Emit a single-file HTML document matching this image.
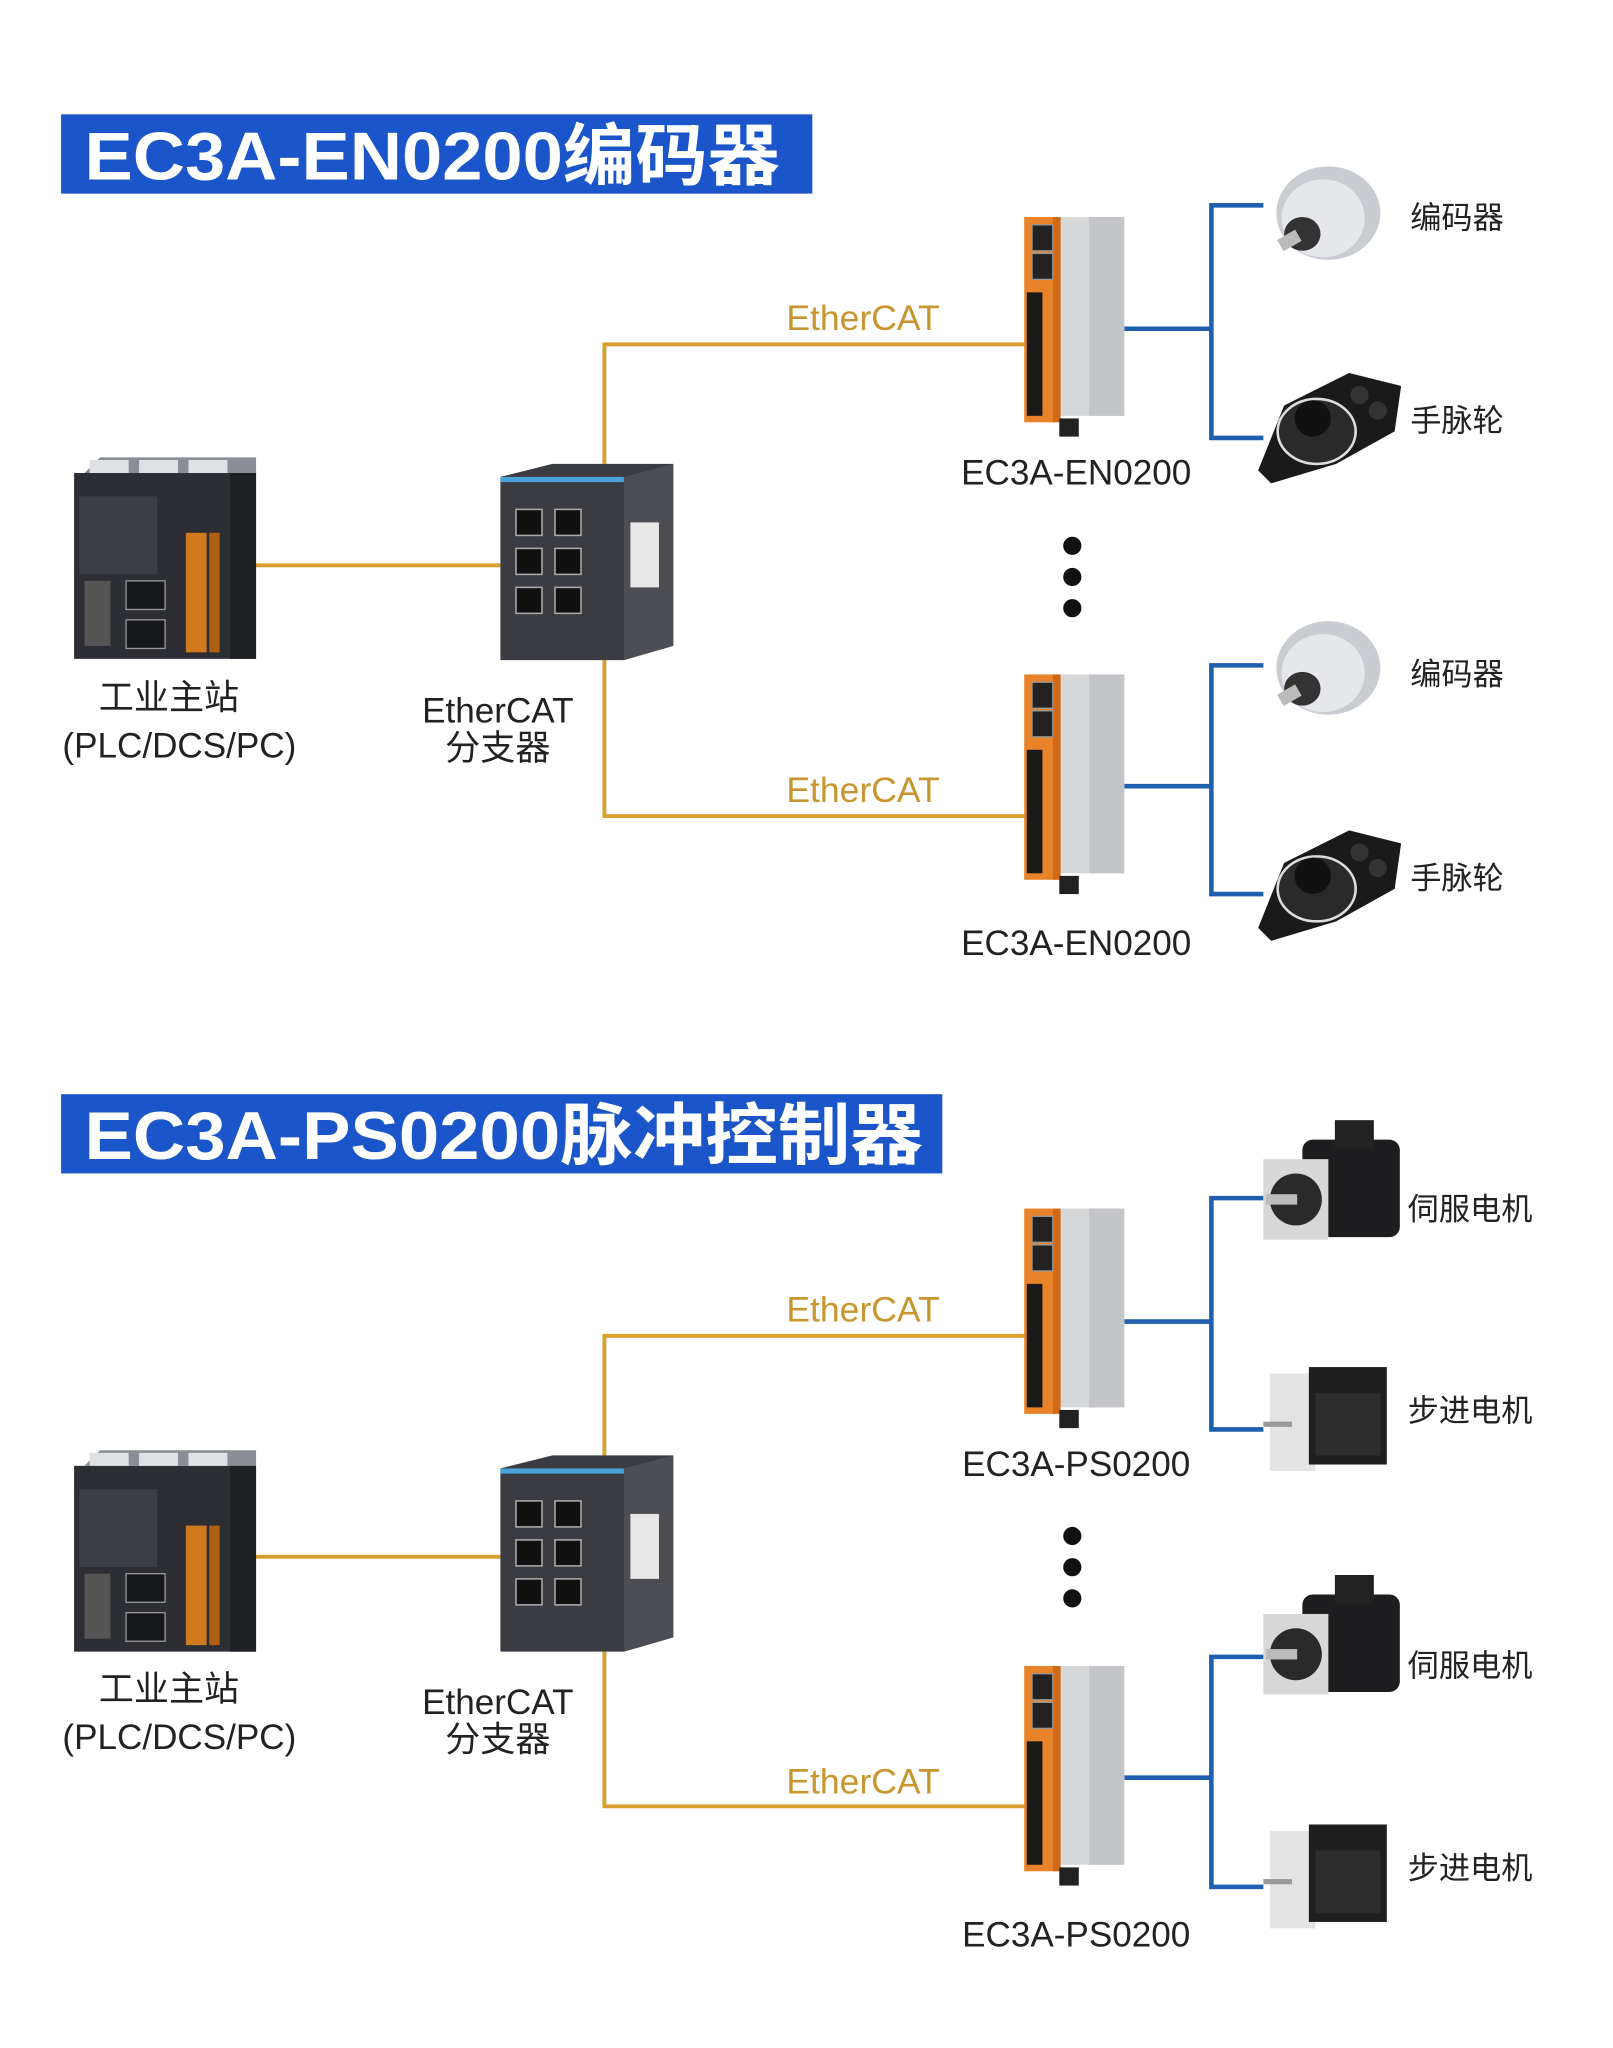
<!DOCTYPE html>
<html><head><meta charset="utf-8"><style>
html,body{margin:0;padding:0;background:#fff;}
svg{display:block;}
text{font-family:"Liberation Sans","Noto Sans CJK SC",sans-serif;}
</style></head><body>
<svg width="1613" height="2048" viewBox="0 0 1241 1576" preserveAspectRatio="none" xmlns="http://www.w3.org/2000/svg">
<defs>
<g id="plc">
  <rect x="0" y="12" width="140" height="143" fill="#2c2e33"/>
  <polygon points="8,12 20,0 140,0 140,12" fill="#8a8d93"/>
  <rect x="12" y="2" width="30" height="10" fill="#dfe1e4"/><rect x="50" y="2" width="30" height="10" fill="#dfe1e4"/><rect x="88" y="2" width="30" height="10" fill="#dfe1e4"/>
  <rect x="4" y="30" width="60" height="60" fill="#3b3e44"/>
  <rect x="40" y="95" width="30" height="22" fill="#15171a" stroke="#999" stroke-width="1"/>
  <rect x="40" y="125" width="30" height="22" fill="#15171a" stroke="#999" stroke-width="1"/>
  <rect x="8" y="95" width="20" height="50" fill="#555"/>
  <rect x="86" y="58" width="16" height="92" fill="#d07a20"/>
  <rect x="104" y="58" width="8" height="92" fill="#b06010"/>
  <rect x="120" y="12" width="20" height="143" fill="#1e2024"/>
</g>
<g id="sw">
  <polygon points="0,10 40,0 133,0 133,140 95,151 0,151" fill="#3a3c41"/>
  <polygon points="95,10 133,0 133,140 95,151" fill="#4c4e53"/>
  <rect x="0" y="10" width="95" height="4" fill="#4aa3d8"/>
  <g fill="#111" stroke="#aaa" stroke-width="1.2">
    <rect x="12" y="35" width="20" height="20"/><rect x="42" y="35" width="20" height="20"/>
    <rect x="12" y="65" width="20" height="20"/><rect x="42" y="65" width="20" height="20"/>
    <rect x="12" y="95" width="20" height="20"/><rect x="42" y="95" width="20" height="20"/>
  </g>
  <rect x="100" y="45" width="22" height="50" fill="#e8e8e8"/>
</g>
<g id="mod">
  <rect x="24" y="0" width="53" height="153" fill="#d6d7d9"/>
  <rect x="50" y="0" width="27" height="153" fill="#c4c5c8"/>
  <rect x="0" y="0" width="24" height="158" fill="#e8832a"/>
  <rect x="22" y="0" width="6" height="158" fill="#d06a18"/>
  <rect x="6" y="6" width="16" height="20" fill="#222" stroke="#999"/>
  <rect x="6" y="28" width="16" height="20" fill="#222" stroke="#999"/>
  <rect x="2" y="58" width="12" height="95" fill="#1a1a1a"/>
  <rect x="27" y="155" width="15" height="14" fill="#222"/>
</g>
<g id="enc">
  <ellipse cx="44" cy="36" rx="40" ry="36" fill="#c9ccd1"/>
  <ellipse cx="40" cy="40" rx="32" ry="30" fill="#e5e7ea"/>
  <ellipse cx="24" cy="52" rx="14" ry="13" fill="#333"/>
  <rect x="6" y="52" width="16" height="10" fill="#bbb" transform="rotate(-30 14 57)"/>
</g>
<g id="hw">
  <polygon points="20,30 70,5 110,15 105,50 60,75 10,90 0,80" fill="#1a1a1a"/>
  <ellipse cx="45" cy="50" rx="30" ry="25" fill="#2a2a2a" stroke="#ddd" stroke-width="2"/>
  <circle cx="42" cy="40" r="14" fill="#111"/>
  <circle cx="78" cy="22" r="7" fill="#333"/><circle cx="92" cy="34" r="7" fill="#333"/>
</g>
<g id="servo">
  <rect x="30" y="15" width="75" height="75" rx="8" fill="#1d1d1f"/>
  <rect x="55" y="0" width="30" height="22" fill="#222"/>
  <rect x="0" y="30" width="50" height="62" fill="#d8d8d8"/>
  <circle cx="25" cy="61" r="20" fill="#2a2a2a"/>
  <rect x="2" y="57" width="24" height="8" fill="#bbb"/>
</g>
<g id="step">
  <rect x="5" y="5" width="35" height="75" fill="#e3e3e3"/>
  <rect x="35" y="0" width="60" height="75" fill="#1f1f1f"/>
  <rect x="40" y="20" width="50" height="48" fill="#2d2d2d"/>
  <rect x="0" y="42" width="22" height="4" fill="#999"/>
</g>
</defs>

<!-- Section 1 -->
<rect x="47" y="88" width="578" height="61" fill="#1a55c9"/>
<text x="65" y="138" font-size="52" font-weight="bold" fill="#fff" textLength="535" lengthAdjust="spacingAndGlyphs">EC3A-EN0200编码器</text>

<g stroke="#d9a030" stroke-width="3" fill="none">
  <line x1="197" y1="435" x2="387" y2="435"/>
  <polyline points="465,357 465,265 790,265"/>
  <polyline points="465,508 465,628 790,628"/>
</g>
<g stroke="#1f5fb0" stroke-width="3.5" fill="none">
  <line x1="865" y1="253" x2="932" y2="253"/>
  <polyline points="972,158 932,158 932,337 972,337"/>
  <line x1="865" y1="605" x2="932" y2="605"/>
  <polyline points="972,512 932,512 932,688 972,688"/>
</g>
<use href="#plc" x="57" y="352"/>
<use href="#sw" x="385" y="357"/>
<use href="#mod" x="788" y="167"/>
<use href="#mod" x="788" y="519"/>
<use href="#enc" x="978" y="128"/>
<use href="#hw" x="968" y="282"/>
<use href="#enc" x="978" y="478"/>
<use href="#hw" x="968" y="634"/>

<g font-size="27" fill="#c8962e">
<text x="605" y="254" textLength="118" lengthAdjust="spacingAndGlyphs">EtherCAT</text>
<text x="605" y="617" textLength="118" lengthAdjust="spacingAndGlyphs">EtherCAT</text>
</g>
<g font-size="27" fill="#222" text-anchor="middle">
<text x="130" y="546">工业主站</text>
<text x="138" y="583">(PLC/DCS/PC)</text>
<text x="383" y="556">EtherCAT</text>
<text x="383" y="585">分支器</text>
<text x="828" y="373">EC3A-EN0200</text>
<text x="828" y="735">EC3A-EN0200</text>
</g>
<g font-size="24" fill="#222">
<text x="1085" y="176">编码器</text>
<text x="1085" y="332">手脉轮</text>
<text x="1085" y="527">编码器</text>
<text x="1085" y="684">手脉轮</text>
</g>
<g fill="#111">
<circle cx="825" cy="420" r="7"/><circle cx="825" cy="444" r="7"/><circle cx="825" cy="468" r="7"/>
</g>

<!-- Section 2 -->
<rect x="47" y="842" width="678" height="61" fill="#1a55c9"/>
<text x="65" y="892" font-size="52" font-weight="bold" fill="#fff" textLength="645" lengthAdjust="spacingAndGlyphs">EC3A-PS0200脉冲控制器</text>

<g stroke="#d9a030" stroke-width="3" fill="none">
  <line x1="197" y1="1198" x2="387" y2="1198"/>
  <polyline points="465,1121 465,1028 790,1028"/>
  <polyline points="465,1270 465,1390 790,1390"/>
</g>
<g stroke="#1f5fb0" stroke-width="3.5" fill="none">
  <line x1="865" y1="1017" x2="932" y2="1017"/>
  <polyline points="972,922 932,922 932,1100 972,1100"/>
  <line x1="865" y1="1368" x2="932" y2="1368"/>
  <polyline points="972,1275 932,1275 932,1452 972,1452"/>
</g>
<use href="#plc" x="57" y="1116"/>
<use href="#sw" x="385" y="1120"/>
<use href="#mod" x="788" y="930"/>
<use href="#mod" x="788" y="1282"/>
<use href="#servo" x="972" y="862"/>
<use href="#step" x="972" y="1052"/>
<use href="#servo" x="972" y="1212"/>
<use href="#step" x="972" y="1404"/>

<g font-size="27" fill="#c8962e">
<text x="605" y="1017" textLength="118" lengthAdjust="spacingAndGlyphs">EtherCAT</text>
<text x="605" y="1380" textLength="118" lengthAdjust="spacingAndGlyphs">EtherCAT</text>
</g>
<g font-size="27" fill="#222" text-anchor="middle">
<text x="130" y="1309">工业主站</text>
<text x="138" y="1346">(PLC/DCS/PC)</text>
<text x="383" y="1319">EtherCAT</text>
<text x="383" y="1348">分支器</text>
<text x="828" y="1136">EC3A-PS0200</text>
<text x="828" y="1498">EC3A-PS0200</text>
</g>
<g font-size="24" fill="#222">
<text x="1083" y="939">伺服电机</text>
<text x="1083" y="1094">步进电机</text>
<text x="1083" y="1290">伺服电机</text>
<text x="1083" y="1446">步进电机</text>
</g>
<g fill="#111">
<circle cx="825" cy="1182" r="7"/><circle cx="825" cy="1206" r="7"/><circle cx="825" cy="1230" r="7"/>
</g>
</svg>
</body></html>
